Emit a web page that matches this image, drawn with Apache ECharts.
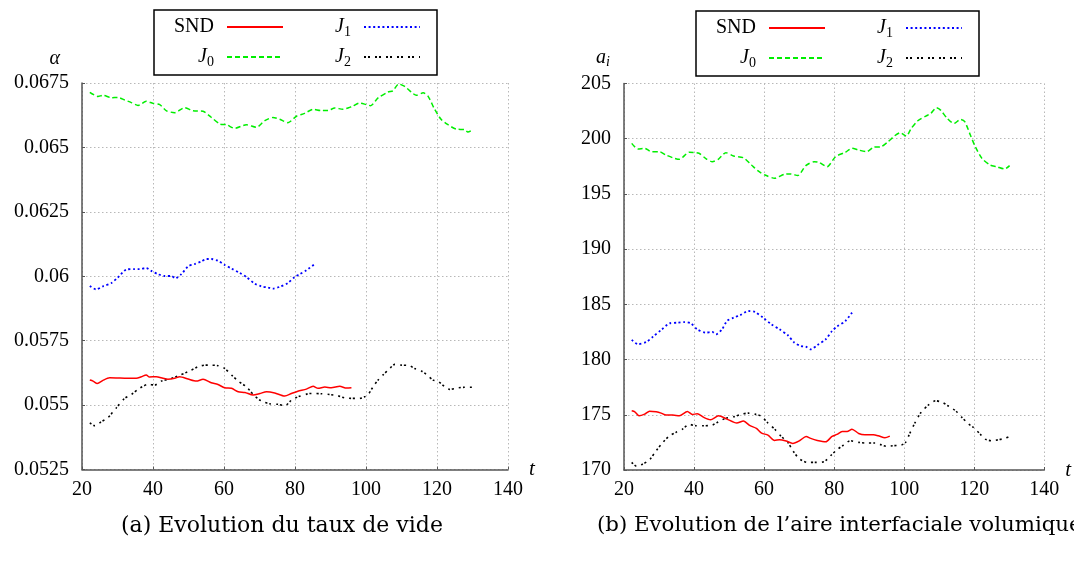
<!DOCTYPE html>
<html>
<head>
<meta charset="utf-8">
<script src="https://cdn.jsdelivr.net/npm/echarts@6/dist/echarts.min.js"></script>
<style>
html,body{margin:0;padding:0;background:#fff;}
#c{width:1074px;height:566px;}
</style>
</head>
<body>
<div id="c"></div>
<script>
// ---------- data (t, value) ----------
const seriesNames = ['SND', 'J0', 'J1', 'J2'];

const sndAlpha = [[22.2,0.05597],[23.1,0.05593],[24.3,0.05584],[25.9,0.05596],[27.8,0.05606],[30.1,0.05605],[32.0,0.05604],[35.3,0.05604],[36.7,0.0561],[38.1,0.05617],[39.0,0.05609],[40.9,0.0561],[42.8,0.05604],[44.2,0.056],[46.1,0.05604],[47.5,0.0561],[49.9,0.05601],[52.2,0.05593],[54.1,0.056],[56.4,0.05587],[58.3,0.0558],[60.2,0.05567],[62.1,0.05565],[64.0,0.05552],[65.9,0.05549],[68.2,0.05539],[70.1,0.05545],[72.0,0.05552],[74.3,0.05547],[77.1,0.05535],[79.0,0.05545],[80.8,0.05554],[83.2,0.05562],[85.1,0.05573],[86.5,0.05565],[88.4,0.0557],[90.2,0.05567],[92.6,0.05573],[94.5,0.05566],[95.9,0.05567]];

const j0Alpha = [[22.2,0.06714],[24.5,0.06698],[25.9,0.06702],[28.3,0.06693],[30.1,0.06694],[32.0,0.06684],[33.9,0.06674],[35.8,0.06663],[38.1,0.06679],[40.0,0.06671],[41.9,0.06666],[43.8,0.06642],[46.1,0.06635],[48.9,0.06654],[51.3,0.06642],[54.1,0.0664],[56.4,0.06617],[58.8,0.06591],[60.7,0.06588],[63.0,0.06574],[66.3,0.06588],[69.1,0.06578],[71.5,0.06604],[73.8,0.06616],[75.7,0.06609],[78.0,0.06596],[80.4,0.06621],[82.7,0.06632],[85.1,0.06648],[87.4,0.06643],[89.3,0.06643],[91.2,0.06653],[93.5,0.06648],[95.9,0.06658],[98.2,0.06672],[100.1,0.06666],[101.3,0.06662],[103.4,0.06692],[106.2,0.06715],[107.6,0.0672],[109.2,0.06746],[110.9,0.06737],[112.8,0.06714],[114.2,0.06702],[116.1,0.06712],[117.5,0.06698],[119.3,0.06649],[121.2,0.06608],[123.1,0.06588],[125.4,0.06571],[127.8,0.06569],[128.7,0.0656],[130.1,0.06569]];

const j1Alpha = [[22.2,0.05962],[24.0,0.05949],[25.9,0.05961],[28.3,0.05974],[30.1,0.05995],[32.5,0.06026],[34.8,0.06028],[36.2,0.06028],[38.1,0.06032],[39.5,0.06021],[41.4,0.06008],[43.3,0.06001],[45.2,0.06001],[46.3,0.05992],[48.0,0.06008],[49.9,0.06039],[51.7,0.06047],[53.6,0.06057],[55.0,0.06067],[56.4,0.06067],[58.3,0.0606],[60.2,0.06044],[62.1,0.0603],[64.4,0.06013],[66.3,0.05997],[68.6,0.05972],[70.5,0.05961],[72.4,0.05956],[73.8,0.05952],[75.7,0.05959],[78.0,0.05974],[79.9,0.05997],[81.3,0.06008],[83.2,0.06023],[85.5,0.06047]];

const j2Alpha = [[22.2,0.05431],[23.6,0.0542],[25.4,0.05435],[27.3,0.05451],[29.7,0.0549],[32.0,0.05526],[33.9,0.05541],[36.2,0.05565],[38.6,0.0558],[40.5,0.05578],[42.3,0.05593],[44.7,0.05601],[47.0,0.05613],[50.3,0.05632],[52.7,0.05649],[54.6,0.05655],[56.0,0.05655],[58.3,0.05653],[60.2,0.05642],[62.1,0.05617],[64.0,0.05593],[66.3,0.05571],[68.6,0.05536],[70.5,0.05516],[72.9,0.05505],[75.2,0.05503],[77.1,0.05497],[79.0,0.05519],[80.8,0.05532],[83.7,0.05544],[84.6,0.05545],[87.4,0.05544],[89.8,0.05541],[92.1,0.05536],[94.0,0.05528],[95.9,0.05526],[98.2,0.05526],[99.6,0.05532],[100.6,0.05541],[102.0,0.05571],[103.4,0.05597],[104.8,0.05617],[106.7,0.05642],[108.1,0.05658],[110.0,0.05655],[112.3,0.05653],[113.7,0.05642],[115.6,0.05632],[117.0,0.05619],[118.9,0.05597],[120.4,0.05591],[122.2,0.05571],[123.6,0.05561],[126.0,0.05567],[127.8,0.05569],[130.1,0.05569]];

const sndArea = [[22.2,175.36],[23.1,175.27],[24.3,174.91],[25.9,175.06],[27.3,175.33],[29.2,175.27],[30.6,175.15],[32.0,174.97],[33.9,174.97],[35.8,174.91],[38.1,175.3],[39.5,175.03],[40.9,175.09],[42.8,174.76],[44.7,174.55],[47.0,174.91],[49.4,174.61],[52.2,174.25],[54.1,174.43],[56.0,174.01],[57.8,173.77],[59.3,173.34],[61.1,173.16],[63.0,172.68],[64.4,172.74],[66.3,172.62],[68.2,172.41],[70.1,172.65],[72.0,173.04],[73.3,172.86],[75.2,172.68],[77.6,172.56],[79.4,173.04],[80.8,173.22],[82.3,173.49],[83.7,173.49],[85.1,173.7],[87.0,173.31],[88.8,173.19],[91.2,173.19],[92.6,173.1],[94.5,172.92],[95.9,173.07]];

const j0Area = [[22.2,199.58],[24.0,199.07],[25.9,199.13],[27.8,198.83],[30.1,198.83],[32.0,198.52],[33.9,198.28],[35.8,198.13],[38.6,198.77],[41.4,198.68],[43.3,198.22],[45.2,197.92],[47.0,198.16],[49.1,198.74],[51.3,198.43],[54.1,198.28],[56.4,197.62],[58.3,197.08],[60.2,196.72],[63.0,196.42],[65.8,196.78],[67.7,196.81],[69.6,196.66],[71.9,197.56],[74.3,197.92],[75.7,197.86],[78.0,197.47],[80.4,198.37],[83.2,198.77],[85.1,199.13],[86.9,198.98],[89.3,198.83],[91.2,199.22],[93.5,199.28],[95.4,199.73],[97.3,200.27],[98.9,200.54],[100.6,200.24],[102.0,200.93],[103.8,201.6],[106.2,202.05],[107.6,202.29],[109.2,202.8],[110.4,202.59],[112.3,201.84],[114.2,201.38],[116.1,201.75],[117.3,201.54],[118.9,200.33],[120.3,199.28],[122.2,198.22],[124.5,197.62],[126.4,197.47],[128.7,197.26],[130.1,197.56]];

const j1Area = [[22.2,181.78],[24.0,181.39],[26.4,181.6],[28.3,182.08],[30.6,182.68],[33.0,183.28],[35.3,183.34],[37.2,183.4],[39.1,183.28],[40.9,182.74],[43.3,182.44],[45.2,182.5],[46.3,182.29],[48.0,182.74],[49.4,183.49],[51.3,183.8],[53.1,184.01],[55.5,184.4],[57.4,184.31],[59.7,183.8],[62.1,183.19],[64.4,182.74],[66.8,182.2],[68.6,181.54],[70.5,181.23],[71.9,181.17],[73.3,180.93],[75.2,181.3],[77.6,181.84],[79.4,182.59],[80.8,182.98],[83.2,183.49],[85.1,184.25]];

const j2Area = [[22.2,170.69],[23.6,170.33],[25.4,170.54],[27.3,170.93],[29.2,171.75],[31.1,172.5],[33.0,173.1],[34.8,173.4],[36.7,173.7],[38.6,174.13],[40.5,174.01],[42.8,174.01],[45.2,174.07],[47.0,174.37],[48.9,174.67],[51.3,174.82],[53.6,175.06],[55.5,175.15],[57.4,175.06],[59.3,174.85],[61.1,174.25],[63.0,173.7],[64.9,173.04],[66.8,172.5],[68.2,171.75],[70.1,171.0],[72.4,170.69],[74.3,170.69],[77.1,170.75],[79.0,171.3],[80.8,171.84],[82.7,172.26],[84.6,172.65],[87.0,172.5],[89.3,172.44],[91.7,172.44],[93.1,172.32],[95.0,172.14],[96.8,172.2],[99.2,172.26],[100.4,172.5],[101.5,173.25],[102.9,174.16],[104.8,175.21],[107.2,175.96],[109.0,176.27],[110.9,176.12],[112.8,175.75],[114.7,175.36],[116.5,174.76],[118.4,174.16],[119.8,173.85],[121.7,173.25],[123.1,172.8],[125.0,172.65],[126.9,172.74],[128.7,172.86],[130.1,173.04]];

// axis ranges / ticks
const tAxis = { min: 20, max: 140, interval: 20 };
const alphaAxis = { min: 0.0525, max: 0.0675, interval: 0.0025 };
const areaAxis = { min: 170, max: 205, interval: 5 };

const captions = ['(a) Evolution du taux de vide', '(b) Evolution de l\u2019aire interfaciale volumique'];

// ---------- styles ----------
const SERIF = 'Liberation Serif';
const styles = {
  SND: { color: '#ff0000', type: 'solid', width: 1.5 },
  J0:  { color: '#00ee00', type: [5, 3], width: 1.5 },
  J1:  { color: '#0000ff', type: [2, 2.6], width: 1.8 },
  J2:  { color: '#000000', type: [2, 2, 2, 5], width: 1.6 }
};

const richText = {
  i: { fontFamily: SERIF, fontStyle: 'italic', fontSize: 20, color: '#000' },
  s: { fontFamily: SERIF, fontSize: 14, color: '#000', padding: [10, 0, 0, 0] },
  si: { fontFamily: SERIF, fontStyle: 'italic', fontSize: 14, color: '#000', padding: [10, 0, 0, 0] },
  r: { fontFamily: SERIF, fontSize: 20, color: '#000' }
};
function legendLabel(name) {
  if (name === 'SND') return '{r|SND}';
  return '{i|J}{s|' + name.slice(1) + '}';
}

function xAxisCfg(gi) {
  return {
    type: 'value', gridIndex: gi, min: tAxis.min, max: tAxis.max, interval: tAxis.interval,
    name: 't', nameLocation: 'end', nameGap: 12,
    nameTextStyle: { fontFamily: SERIF, fontStyle: 'italic', fontSize: 21, color: '#000', verticalAlign: 'middle' },
    axisLine: { show: true, lineStyle: { color: '#555', width: 1.5 } },
    axisTick: { show: true, inside: true, length: 3, lineStyle: { color: '#555' } },
    axisLabel: { fontFamily: SERIF, fontSize: 20, color: '#000', margin: 10 },
    splitLine: { show: true, lineStyle: { color: '#b8b8b8', type: [1.5, 2.5], width: 1 } }
  };
}
function yAxisCfg(gi, rng, nm, pad, fmt) {
  return {
    type: 'value', gridIndex: gi, min: rng.min, max: rng.max, interval: rng.interval,
    name: nm, nameLocation: 'end', nameGap: 14,
    nameTextStyle: { align: 'right', padding: [0, pad, 0, 0], rich: richText },
    axisLine: { show: true, onZero: false, lineStyle: { color: '#555', width: 1.5 } },
    axisTick: { show: true, inside: true, length: 3, lineStyle: { color: '#555' } },
    axisLabel: { fontFamily: SERIF, fontSize: 20, color: '#000', margin: 13, formatter: fmt },
    splitLine: { show: true, lineStyle: { color: '#b8b8b8', type: [1.5, 2.5], width: 1 } }
  };
}

function mkSeries(name, data, gi) {
  const st = styles[name];
  return {
    type: 'line', name: name, data: data, xAxisIndex: gi, yAxisIndex: gi,
    showSymbol: false, symbol: 'none', smooth: 0.25,
    lineStyle: { color: st.color, type: st.type, width: st.width },
    itemStyle: { color: st.color }, z: 3
  };
}

// legend entries: [name, rightEdgeX, rowTopY]
function mkLegends(boxLeft, rowTop) {
  const col1 = boxLeft + 130, col2 = boxLeft + 267;
  const entries = [['SND', col1, rowTop], ['J1', col2, rowTop], ['J0', col1, rowTop + 30], ['J2', col2, rowTop + 30]];
  return entries.map(e => ({
    data: [e[0]], right: 1074 - e[1], top: e[2], padding: 0,
    orient: 'horizontal', align: 'right', itemWidth: 56, itemHeight: 14,
    selectedMode: false, z: 10,
    itemStyle: { opacity: 0 },
    lineStyle: { opacity: 1 },
    formatter: legendLabel,
    textStyle: { fontFamily: SERIF, fontSize: 20, color: '#000', padding: [0, 8, 0, 0], rich: richText }
  }));
}

const chart = echarts.init(document.getElementById('c'), null, { renderer: 'canvas' });
chart.setOption({
  animation: false,
  backgroundColor: '#fff',
  grid: [
    { left: 82, top: 83, width: 426, height: 386.5 },
    { left: 624, top: 83.5, width: 426, height: 386.5 }
  ],
  xAxis: [xAxisCfg(0), xAxisCfg(1)],
  yAxis: [
    yAxisCfg(0, alphaAxis, '{i|\u03b1}', 22, v => String(Number(v.toFixed(4)))),
    yAxisCfg(1, areaAxis, '{i|a}{si|i}', 14, v => String(Math.round(v)))
  ],
  legend: mkLegends(154, 17).concat(mkLegends(696, 18)),
  graphic: [
    { type: 'rect', z: 5, shape: { x: 154, y: 10, width: 283, height: 65 }, style: { fill: '#fff', stroke: '#000', lineWidth: 1.5 } },
    { type: 'rect', z: 5, shape: { x: 696, y: 11, width: 283, height: 65 }, style: { fill: '#fff', stroke: '#000', lineWidth: 1.5 } }
  ],
  title: [
    { text: captions[0], left: 116, top: 510, textStyle: { fontFamily: 'DejaVu Serif', fontWeight: 'normal', fontSize: 22, color: '#000' } },
    { text: captions[1], left: 592, top: 510, textStyle: { fontFamily: 'DejaVu Serif', fontWeight: 'normal', fontSize: 21.3, color: '#000' } }
  ],
  series: [
    mkSeries('J0', j0Alpha, 0),
    mkSeries('J1', j1Alpha, 0),
    mkSeries('J2', j2Alpha, 0),
    mkSeries('SND', sndAlpha, 0),
    mkSeries('J0', j0Area, 1),
    mkSeries('J1', j1Area, 1),
    mkSeries('J2', j2Area, 1),
    mkSeries('SND', sndArea, 1)
  ]
});
</script>
</body>
</html>
